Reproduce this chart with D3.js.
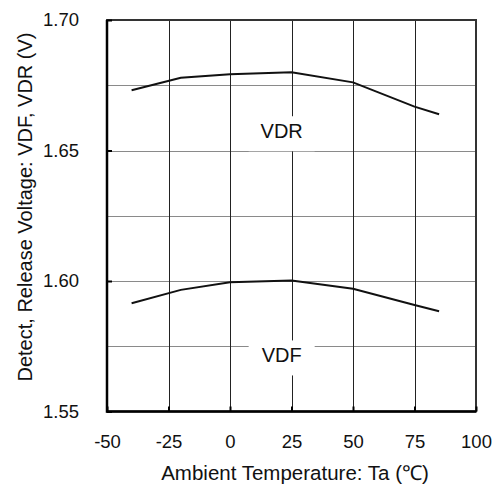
<!DOCTYPE html>
<html>
<head>
<meta charset="utf-8">
<script src="https://cdn.jsdelivr.net/npm/d3@7"></script>
<style>
  body { margin: 0; background: #fff; }
  text { font-family: "Liberation Sans", Arial, sans-serif; fill: #111; }
</style>
</head>
<body>
<div id="chart"></div>
<script>
var temps = [-40, -20, 0, 25, 50, 75, 85];
var vdr = [1.6731, 1.6779, 1.6792, 1.6800, 1.6761, 1.6668, 1.6639];
var vdf = [1.5915, 1.5966, 1.5995, 1.6002, 1.5970, 1.5908, 1.5884];

var xTicks = [-50, -25, 0, 25, 50, 75, 100];
var yTicks = [1.55, 1.60, 1.65, 1.70];
var yGrid = [1.575, 1.60, 1.625, 1.65, 1.675];

var width = 494, height = 491;
var margin = {top: 20, right: 18, bottom: 79.5, left: 107};

var x = d3.scaleLinear().domain([-50, 100]).range([margin.left, width - margin.right]);
var y = d3.scaleLinear().domain([1.55, 1.70]).range([height - margin.bottom, margin.top]);

var svg = d3.select("#chart")
    .append("svg")
    .attr("width", width)
    .attr("height", height);

// grid lines
svg.append("g")
    .selectAll("line")
    .data(yGrid)
    .enter()
    .append("line")
    .attr("x1", x(-50)).attr("x2", x(100))
    .attr("y1", function(d) { return Math.round(y(d)) + 0.5; })
    .attr("y2", function(d) { return Math.round(y(d)) + 0.5; })
    .attr("stroke", "#8a8a8a")
    .attr("stroke-width", 1);

svg.append("g")
    .selectAll("line")
    .data(xTicks.slice(1, -1))
    .enter()
    .append("line")
    .attr("x1", function(d) { return Math.round(x(d)) + 0.5; })
    .attr("x2", function(d) { return Math.round(x(d)) + 0.5; })
    .attr("y1", y(1.70)).attr("y2", y(1.55))
    .attr("stroke", "#222")
    .attr("stroke-width", 1);

// curves
var line = d3.line()
    .x(function(d, i) { return x(temps[i]); })
    .y(function(d) { return y(d); });

[vdr, vdf].forEach(function(s) {
    svg.append("path")
        .datum(s)
        .attr("d", line)
        .attr("fill", "none")
        .attr("stroke", "#111")
        .attr("stroke-width", 2);
});

// curve labels with white backing
var labels = [
    {text: "VDR", t: 21, v: 1.6547},
    {text: "VDF", t: 21, v: 1.5688}
];
var lab = svg.append("g").selectAll("g")
    .data(labels)
    .enter()
    .append("g")
    .attr("transform", function(d) { return "translate(" + x(d.t) + "," + y(d.v) + ")"; });
lab.append("rect")
    .attr("x", -33).attr("y", -22)
    .attr("width", 66).attr("height", 35)
    .attr("fill", "#fff");
lab.append("text")
    .attr("text-anchor", "middle")
    .attr("font-size", "20px")
    .text(function(d) { return d.text; });

// frame
svg.append("rect")
    .attr("x", x(-50)).attr("y", y(1.70))
    .attr("width", x(100) - x(-50))
    .attr("height", y(1.55) - y(1.70))
    .attr("fill", "none")
    .attr("stroke", "#333")
    .attr("stroke-width", 2);
svg.append("path")
    .attr("d", "M" + x(-50) + "," + y(1.70) + "V" + y(1.55) + "H" + x(100))
    .attr("fill", "none")
    .attr("stroke", "#000")
    .attr("stroke-width", 2.5);

// axes (inward ticks)
var xAxis = d3.axisBottom(x)
    .tickValues(xTicks)
    .tickSize(-5)
    .tickPadding(23)
    .tickFormat(function(d) { return String(d); });
var gx = svg.append("g")
    .attr("transform", "translate(0," + y(1.55) + ")")
    .call(xAxis);
gx.select(".domain").remove();
gx.selectAll("line").attr("stroke", "#000").attr("stroke-width", 2);
gx.selectAll("text").attr("font-size", "18.5px").attr("fill", "#111")
    .attr("font-family", "'Liberation Sans', Arial, sans-serif");

var yAxis = d3.axisLeft(y)
    .tickValues(yTicks)
    .tickSize(-5)
    .tickPadding(28)
    .tickFormat(d3.format(".2f"));
var gy = svg.append("g")
    .attr("transform", "translate(" + x(-50) + ",0)")
    .call(yAxis);
gy.select(".domain").remove();
gy.selectAll("line").attr("stroke", "#000").attr("stroke-width", 2);
gy.selectAll("text").attr("font-size", "18.5px").attr("fill", "#111")
    .attr("font-family", "'Liberation Sans', Arial, sans-serif");

// axis titles
svg.append("text")
    .attr("x", 295)
    .attr("y", 480)
    .attr("text-anchor", "middle")
    .attr("font-size", "20.5px")
    .text("Ambient Temperature: Ta (\u2103)");

svg.append("text")
    .attr("transform", "translate(32,207) rotate(-90)")
    .attr("text-anchor", "middle")
    .attr("font-size", "20px")
    .text("Detect, Release Voltage: VDF, VDR (V)");
</script>
</body>
</html>
